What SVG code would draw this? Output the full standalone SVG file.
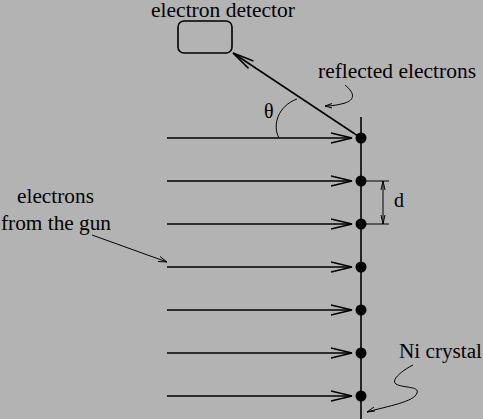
<svg xmlns="http://www.w3.org/2000/svg" width="483" height="419" viewBox="0 0 483 419">
<style>
text{font-family:"Liberation Serif","DejaVu Serif","Times New Roman",serif;font-size:20px;fill:#000}
.ln{stroke:#000;stroke-width:1.6;fill:none}
.thin{stroke:#000;stroke-width:1;fill:none}
.ah{stroke:#000;stroke-width:1.6;fill:none}
</style>
<rect x="0" y="0" width="483" height="419" fill="#b3b3b3"/>
<g id="connectors">
  <line class="ln" x1="361" y1="117" x2="361" y2="419"/>
  <g id="beams">
    <line class="ln" x1="167" y1="138" x2="352" y2="138"/>
    <path class="ah" d="M331,133 L352,138 L331,143"/>
    <line class="ln" x1="167" y1="181" x2="352" y2="181"/>
    <path class="ah" d="M331,176 L352,181 L331,186"/>
    <line class="ln" x1="167" y1="224" x2="352" y2="224"/>
    <path class="ah" d="M331,219 L352,224 L331,229"/>
    <line class="ln" x1="167" y1="267" x2="352" y2="267"/>
    <path class="ah" d="M331,262 L352,267 L331,272"/>
    <line class="ln" x1="167" y1="310" x2="352" y2="310"/>
    <path class="ah" d="M331,305 L352,310 L331,315"/>
    <line class="ln" x1="167" y1="353" x2="352" y2="353"/>
    <path class="ah" d="M331,348 L352,353 L331,358"/>
    <line class="ln" x1="167" y1="396" x2="352" y2="396"/>
    <path class="ah" d="M331,391 L352,396 L331,401"/>
  </g>
  <line class="ln" x1="361" y1="138" x2="233" y2="53"/>
  <path class="ah" d="M248.5,68.4 L233,53 L253.5,60.9"/>
  <path class="thin" d="M279,138 C272,125 278,106 297,99"/>
  <path class="thin" d="M345,85 C356,94 354,100 345,103 C338,105 332,106 325,106"/>
  <path class="thin" d="M332,103.5 L325,106 L332,108"/>
  <path class="thin" d="M92,235 L167,262"/>
  <path class="thin" d="M158,261.5 L167,262 L160,256.5"/>
  <line class="thin" x1="361" y1="181" x2="389" y2="181"/>
  <line class="thin" x1="361" y1="224" x2="389" y2="224"/>
  <line class="thin" x1="383" y1="181" x2="383" y2="224"/>
  <path class="thin" d="M381,190 L383,181 L385,190"/>
  <path class="thin" d="M381,215 L383,224 L385,215"/>
  <path class="thin" d="M413,365 C403,370 390,380 396,384 C402,388 420,386 417,393 C414,402 388,406 367,412"/>
  <path class="thin" d="M374,407 L367,412 L375,411"/>
</g>
<g id="crystal">
  <circle cx="361" cy="138" r="5.5"/>
  <circle cx="361" cy="181" r="5.5"/>
  <circle cx="361" cy="224" r="5.5"/>
  <circle cx="361" cy="267" r="5.5"/>
  <circle cx="361" cy="310" r="5.5"/>
  <circle cx="361" cy="353" r="5.5"/>
  <circle cx="361" cy="396" r="5.5"/>
</g>
<g id="detector">
  <rect class="ln" x="178" y="21" width="54" height="32" rx="6"/>
  <text x="151" y="17" font-size="15" textLength="144" lengthAdjust="spacingAndGlyphs">electron detector</text>
</g>
<g id="theta"><text x="264" y="118" font-size="22">θ</text></g>
<g id="reflected"><text x="318" y="78" textLength="158" lengthAdjust="spacingAndGlyphs">reflected electrons</text></g>
<g id="gun">
  <text x="17" y="203" textLength="77" lengthAdjust="spacingAndGlyphs">electrons</text>
  <text x="1" y="230" textLength="110" lengthAdjust="spacingAndGlyphs">from the gun</text>
</g>
<g id="d"><text x="394" y="207">d</text></g>
<g id="ni"><text x="399" y="358" textLength="83" lengthAdjust="spacingAndGlyphs">Ni crystal</text></g>
</svg>
